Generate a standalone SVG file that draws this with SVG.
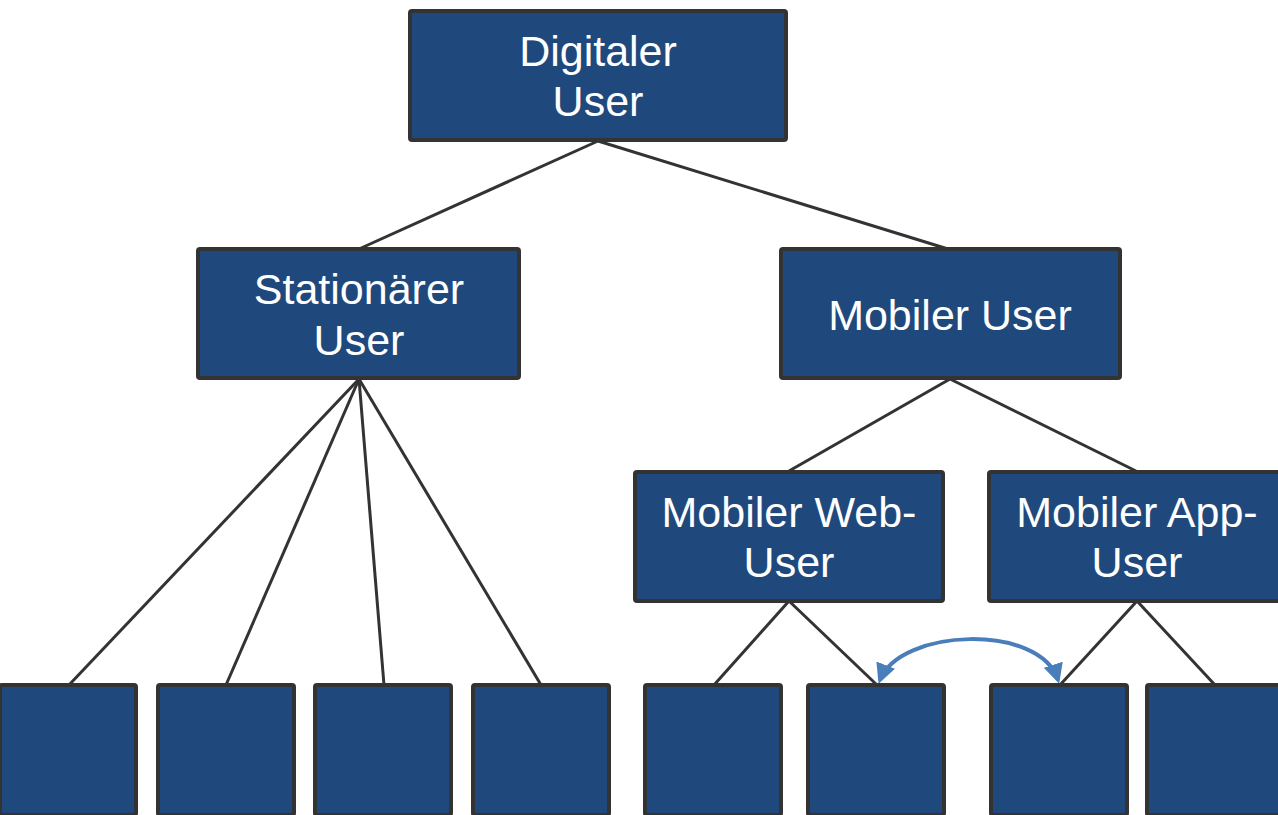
<svg xmlns="http://www.w3.org/2000/svg" width="1278" height="815" viewBox="0 0 1278 815">
  <style>
    .box { fill: #1f497d; stroke: #333333; stroke-width: 4; }
    .lbl { font-family: "Liberation Sans", Arial, sans-serif; font-size: 43px; fill: #ffffff; text-anchor: middle; }
    .edge { stroke: #333333; stroke-width: 3; fill: none; }
    .link { stroke: #4a7ebb; stroke-width: 4; fill: none; }
  </style>
  <defs>
    <marker id="head" viewBox="0 0 10 10" refX="8" refY="5" markerWidth="5" markerHeight="5" orient="auto-start-reverse" markerUnits="strokeWidth">
      <path d="M0,0 L10,5 L0,10 z" fill="#4a7ebb"/>
    </marker>
  </defs>

  <g id="connectors">
    <line class="edge" x1="598" y1="141" x2="359" y2="249"/>
    <line class="edge" x1="598" y1="141" x2="948" y2="249"/>
    <line class="edge" x1="359" y1="379" x2="69" y2="685"/>
    <line class="edge" x1="359" y1="379" x2="226" y2="685"/>
    <line class="edge" x1="359" y1="379" x2="384" y2="685"/>
    <line class="edge" x1="359" y1="379" x2="541" y2="685"/>
    <line class="edge" x1="950" y1="379" x2="789" y2="471"/>
    <line class="edge" x1="950" y1="379" x2="1136" y2="471"/>
    <line class="edge" x1="789" y1="601" x2="714" y2="685"/>
    <line class="edge" x1="789" y1="601" x2="877" y2="685"/>
    <line class="edge" x1="1137" y1="601" x2="1060" y2="685"/>
    <line class="edge" x1="1137" y1="601" x2="1215" y2="685"/>
    <path class="link" d="M880,680 C900,628 1040,623 1058,680" marker-start="url(#head)" marker-end="url(#head)"/>
  </g>

  <g id="digitaler-user">
    <rect class="box" x="410" y="11" width="376" height="129" rx="2"/>
    <text class="lbl" x="598" y="66">Digitaler</text>
    <text class="lbl" x="598" y="116">User</text>
  </g>
  <g id="stationaerer-user">
    <rect class="box" x="198" y="249" width="321" height="129" rx="2"/>
    <text class="lbl" x="359" y="304">Stationärer</text>
    <text class="lbl" x="359" y="355">User</text>
  </g>
  <g id="mobiler-user">
    <rect class="box" x="781" y="249" width="339" height="129" rx="2"/>
    <text class="lbl" x="950" y="330">Mobiler User</text>
  </g>
  <g id="mobiler-web-user">
    <rect class="box" x="635" y="472" width="308" height="129" rx="2"/>
    <text class="lbl" x="789" y="527">Mobiler Web-</text>
    <text class="lbl" x="789" y="577">User</text>
  </g>
  <g id="mobiler-app-user">
    <rect class="box" x="989" y="472" width="296" height="129" rx="2"/>
    <text class="lbl" x="1137" y="527">Mobiler App-</text>
    <text class="lbl" x="1137" y="577">User</text>
  </g>

  <g id="leaf-1"><rect class="box" x="0" y="685" width="136" height="130" rx="2"/></g>
  <g id="leaf-2"><rect class="box" x="158" y="685" width="136" height="130" rx="2"/></g>
  <g id="leaf-3"><rect class="box" x="315" y="685" width="136" height="130" rx="2"/></g>
  <g id="leaf-4"><rect class="box" x="473" y="685" width="136" height="130" rx="2"/></g>
  <g id="leaf-5"><rect class="box" x="645" y="685" width="136" height="130" rx="2"/></g>
  <g id="leaf-6"><rect class="box" x="808" y="685" width="136" height="130" rx="2"/></g>
  <g id="leaf-7"><rect class="box" x="991" y="685" width="136" height="130" rx="2"/></g>
  <g id="leaf-8"><rect class="box" x="1147" y="685" width="136" height="130" rx="2"/></g>
</svg>
